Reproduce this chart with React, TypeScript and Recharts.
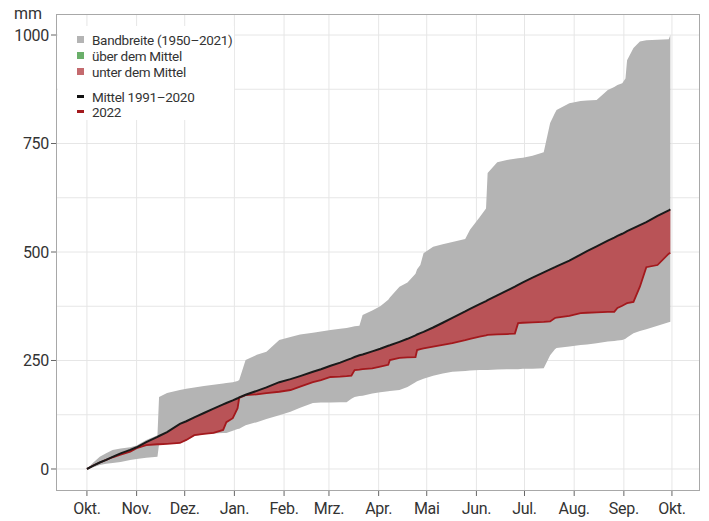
import {
  Area,
  CartesianGrid,
  ComposedChart,
  Line,
  XAxis,
  YAxis,
} from 'recharts'

// days since 1 Oct 2021
const days = [
  0, 4, 8, 12, 16, 21, 27, 31, 37, 44,
  45, 50, 58, 62, 67, 73, 79, 85, 87, 91,
  94, 95, 99, 106, 112, 120, 127, 133, 141, 146,
  152, 158, 162, 165, 167, 170, 172, 178, 183, 188,
  189, 195, 200, 205, 206, 208, 210, 216, 222, 228,
  236, 239, 245, 249, 250, 256, 262, 267, 269, 272,
  278, 285, 289, 292, 293, 301, 308, 312, 318, 325,
  329, 331, 334, 336, 337, 341, 345, 349, 356, 363,
  364,
]

const bandMax = [
  0, 15, 28, 36, 44, 47, 50, 54, 67, 78,
  166, 175, 182, 185, 188, 191, 194, 197, 198, 200,
  203, 205, 251, 263, 270, 297, 304, 310, 314, 317,
  320, 323, 325, 327, 329, 330, 355, 365, 375, 390,
  395, 420, 430, 450, 460, 470, 497, 512, 518, 523,
  530, 551, 580, 600, 682, 707, 712, 715, 716, 717,
  722, 730, 797, 820, 827, 843, 848, 849, 850, 873,
  880, 885, 889, 900, 942, 970, 985, 988, 989, 990,
  1000,
]

const bandMin = [
  0, 4, 9, 12, 14, 16, 21, 23, 26, 28,
  57, 58, 60, 65, 76, 80, 82, 83, 83, 88,
  92, 93, 101, 108, 115, 124, 132, 141, 152, 153,
  153, 154, 154, 162, 166, 168, 169, 174, 177, 179,
  180, 182, 189, 200, 202, 205, 208, 215, 220, 224,
  226, 227, 228, 228, 228, 229, 230, 230, 230, 231,
  231, 232, 262, 276, 279, 282, 286, 287, 290, 294,
  295, 296, 297, 300, 303, 313, 318, 322, 330, 338,
  339,
]

const mittel = [
  0, 8, 15, 21, 28, 36, 44, 50, 62, 74,
  76, 85, 104, 110, 119, 129, 139, 149, 152, 158,
  163, 165, 171, 180, 188, 200, 207, 214, 224, 230,
  238, 245, 251, 255, 258, 262, 264, 271, 277, 284,
  285, 293, 300, 308, 310, 313, 316, 326, 337, 348,
  363, 369, 380, 387, 389, 400, 411, 420, 424, 430,
  441, 453, 460, 465, 467, 480, 494, 502, 513, 526,
  533, 537, 542, 546, 548, 555, 562, 569, 583, 596,
  598,
]

const jahr2022 = [
  0, 8, 15, 21, 27, 33, 40, 48, 55, 57,
  57, 58, 60, 67, 78, 81, 83, 90, 108, 117,
  140, 164, 170, 172, 175, 178, 182, 190, 200, 205,
  212, 213, 214, 215, 228, 229, 230, 232, 236, 240,
  251, 256, 257, 258, 274, 276, 278, 282, 286, 290,
  297, 300, 305, 308, 309, 310, 311, 312, 336, 337,
  338, 339, 340, 348, 349, 353, 359, 360, 361, 362,
  362, 371, 376, 380, 382, 385, 420, 465, 470, 496,
  498,
]

const monthTicks = [0, 31, 61, 92, 123, 151, 182, 212, 243, 273, 304, 335, 365]
const monthLabels = [
  'Okt.', 'Nov.', 'Dez.', 'Jan.', 'Feb.', 'Mrz.', 'Apr.',
  'Mai', 'Jun.', 'Jul.', 'Aug.', 'Sep.', 'Okt.',
]
const yTicks = [0, 250, 500, 750, 1000]
const yGrid = [0, 125, 250, 375, 500, 625, 750, 875, 1000]

const data = days.map((day, i) => ({
  day,
  band: [bandMin[i], bandMax[i]],
  unter: [Math.min(jahr2022[i], mittel[i]), mittel[i]],
  ueber: [mittel[i], Math.max(jahr2022[i], mittel[i])],
  mittel: mittel[i],
  jahr: jahr2022[i],
}))

const font = 'Roboto, "Open Sans", sans-serif'

const legendItems = [
  { label: 'Bandbreite (1950–2021)', color: '#b4b4b4', kind: 'box', top: 32 },
  { label: 'über dem Mittel', color: '#6aaf6a', kind: 'box', top: 48 },
  { label: 'unter dem Mittel', color: '#c46a6e', kind: 'box', top: 64 },
  { label: 'Mittel 1991–2020', color: '#111111', kind: 'line', top: 89 },
  { label: '2022', color: '#a3191d', kind: 'line', top: 104 },
]

function ChartLegend() {
  return (
    <div
      style={{
        position: 'absolute',
        left: 58,
        top: 26,
        width: 176,
        height: 94,
        background: '#fff',
        fontFamily: font,
        fontSize: 13.5,
        letterSpacing: -0.3,
        color: '#333',
      }}
    >
      {legendItems.map((it) => (
        <div
          key={it.label}
          style={{
            position: 'absolute',
            left: 19,
            top: it.top - 26,
            height: 15,
            display: 'flex',
            alignItems: 'center',
            whiteSpace: 'nowrap',
          }}
        >
          <span
            style={{
              display: 'inline-block',
              width: 7,
              height: it.kind === 'box' ? 7 : 3,
              background: it.color,
              marginRight: 8,
            }}
          />
          {it.label}
        </div>
      ))}
    </div>
  )
}

export default function App() {
  return (
    <div
      style={{
        position: 'absolute',
        left: 0,
        top: 0,
        width: 709,
        height: 521,
        background: '#fff',
      }}
    >
      <ComposedChart
        width={709}
        height={521}
        data={data}
        margin={{ top: 14, right: 9, left: 0, bottom: 0 }}
      >
        <CartesianGrid
          stroke="#e6e6e6"
          horizontalValues={yGrid}
          verticalValues={monthTicks}
        />
        <XAxis
          type="number"
          dataKey="day"
          domain={[-19.3, 382.5]}
          allowDataOverflow
          ticks={monthTicks}
          tickFormatter={(v) => monthLabels[monthTicks.indexOf(v)] ?? ''}
          axisLine={false}
          tickLine={{ stroke: '#666' }}
          tickSize={5}
          tickMargin={7}
          height={30}
          interval={0}
          tick={{ fill: '#333', fontSize: 16, fontFamily: font, letterSpacing: -0.3 }}
        />
        <YAxis
          type="number"
          domain={[-50.7, 1048.4]}
          allowDataOverflow
          ticks={yTicks}
          axisLine={false}
          tickLine={{ stroke: '#666' }}
          tickSize={5}
          tickMargin={2}
          width={56}
          interval={0}
          tick={{ fill: '#333', fontSize: 16, fontFamily: font, letterSpacing: -0.3 }}
        />
        <Area
          type="linear"
          dataKey="band"
          stroke="none"
          fill="#b4b4b4"
          fillOpacity={1}
          isAnimationActive={false}
        />
        <Area
          type="linear"
          dataKey="ueber"
          stroke="none"
          fill="#6aaf6a"
          fillOpacity={0.9}
          isAnimationActive={false}
        />
        <Area
          type="linear"
          dataKey="unter"
          stroke="none"
          fill="#b9484d"
          fillOpacity={0.9}
          isAnimationActive={false}
        />
        <Line
          type="linear"
          dataKey="jahr"
          stroke="#a3191d"
          strokeWidth={1.8}
          dot={false}
          isAnimationActive={false}
        />
        <Line
          type="linear"
          dataKey="mittel"
          stroke="#1a1a1a"
          strokeWidth={2}
          dot={false}
          isAnimationActive={false}
        />
      </ComposedChart>
      <div
        style={{
          position: 'absolute',
          left: 56,
          top: 14,
          width: 644,
          height: 477,
          boxSizing: 'border-box',
          border: '1.5px solid #a8a8a8',
          pointerEvents: 'none',
        }}
      />
      <ChartLegend />
      <div
        style={{
          position: 'absolute',
          left: 14,
          top: 4,
          fontFamily: font,
          fontSize: 16,
          color: '#333',
        }}
      >
        mm
      </div>
    </div>
  )
}
